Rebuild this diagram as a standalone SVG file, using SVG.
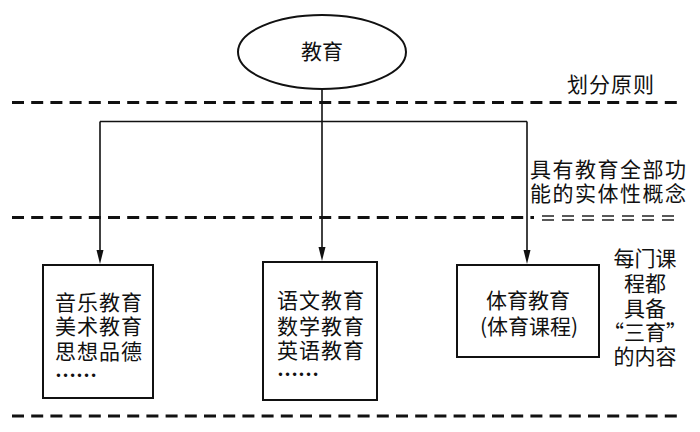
<svg xmlns="http://www.w3.org/2000/svg" width="700" height="432" viewBox="0 0 700 432">
<style>
text{font-family:"Noto Sans CJK SC","Noto Sans CJK JP",sans-serif;font-size:21px;fill:#111;}
.c{text-anchor:middle;}
.sep{stroke:#111;stroke-width:3;stroke-dasharray:12 7.2;fill:none;}
.thin{stroke:#222;stroke-width:1.5;stroke-dasharray:12 8;fill:none;}
.box{fill:#fff;stroke:#111;stroke-width:2;}
.edge{stroke:#111;stroke-width:1.6;fill:none;}
.dots{font-family:"Liberation Serif",serif;font-weight:bold;}
</style>
<g id="separators">
<line class="sep" x1="12" y1="102.5" x2="677" y2="102.5"/>
<line class="sep" x1="12" y1="217.5" x2="534" y2="217.5"/>
<line class="thin" x1="542" y1="216" x2="674" y2="216"/>
<line class="thin" x1="542" y1="220" x2="674" y2="220"/>
<line class="sep" x1="12" y1="416" x2="680" y2="416"/>
</g>
<g id="connectors">
<polyline class="edge" points="322,89 322,249"/>
<polygon points="318.5,247 325.5,247 322,261" fill="#111"/>
<polyline class="edge" points="100,121.5 527,121.5"/>
<polyline class="edge" points="100,121.5 100,252"/>
<polygon points="96.5,250 103.5,250 100,264" fill="#111"/>
<polyline class="edge" points="527,121.5 527,252"/>
<polygon points="523.5,250 530.5,250 527,264" fill="#111"/>
</g>
<g id="root">
<ellipse cx="322" cy="52" rx="84" ry="37" fill="#fff" stroke="#111" stroke-width="2"/>
<text class="c" x="322" y="59">教育</text>
</g>
<g id="label-divide">
<text class="c" x="611" y="92" letter-spacing="1">划分原则</text>
</g>
<g id="label-concept">
<text x="530" y="177" letter-spacing="1.5">具有教育全部功</text>
<text x="530" y="201" letter-spacing="1.5">能的实体性概念</text>
</g>
<g id="box-arts">
<rect class="box" x="43" y="265" width="110" height="133"/>
<text x="55" y="310" letter-spacing="1">音乐教育</text>
<text x="55" y="334" letter-spacing="1">美术教育</text>
<text x="55" y="359" letter-spacing="1">思想品德</text>
<text class="dots" x="55" y="377">……</text>
</g>
<g id="box-academic">
<rect class="box" x="263" y="262" width="114" height="138"/>
<text x="277" y="308" letter-spacing="1">语文教育</text>
<text x="277" y="334" letter-spacing="1">数学教育</text>
<text x="277" y="358" letter-spacing="1">英语教育</text>
<text class="dots" x="277" y="376">……</text>
</g>
<g id="box-pe">
<rect class="box" x="457" y="265" width="142" height="92"/>
<text class="c" x="528" y="308">体育教育</text>
<text class="c" x="529" y="334">(体育课程)</text>
</g>
<g id="label-each">
<text class="c" x="645" y="266">每门课</text>
<text class="c" x="645" y="291">程都</text>
<text class="c" x="645" y="316">具备</text>
<text class="c" x="645" y="340">“三育”</text>
<text class="c" x="645" y="364">的内容</text>
</g>
</svg>
